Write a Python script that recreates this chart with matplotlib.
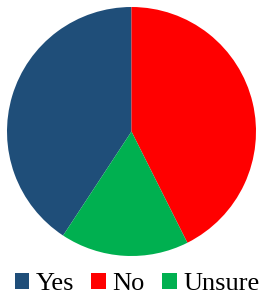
import matplotlib.pyplot as plt

labels = ['Yes', 'No', 'Unsure']
counts = [22, 23, 9]
colors = ['#1F4E79', '#FF0000', '#00B050']

plt.rcParams['font.family'] = ['Liberation Serif', 'DejaVu Serif']

fig = plt.figure(figsize=(2.63, 2.99), dpi=100)
# pie axes: centre (131.5, 131.5) px from top, radius ~124.5 px
r = 124.5
ax = fig.add_axes([(131.5 - r) / 263, (299 - 131.5 - r) / 299, 2 * r / 263, 2 * r / 299])
start = 90 + 360 * counts[0] / sum(counts)
wedges, _ = ax.pie(counts, colors=colors, startangle=start, counterclock=False,
                   wedgeprops=dict(linewidth=0))
ax.set_aspect('auto')
ax.set_xlim(-1, 1)
ax.set_ylim(-1, 1)

fig.legend(wedges, labels, loc='center', bbox_to_anchor=(137 / 263, 1 - 284 / 299),
           ncol=3, frameon=False, fontsize=19, handlelength=0.55, handleheight=0.55,
           handletextpad=0.25, columnspacing=0.65, borderaxespad=0, borderpad=0)

plt.savefig('out.png', dpi=100)
